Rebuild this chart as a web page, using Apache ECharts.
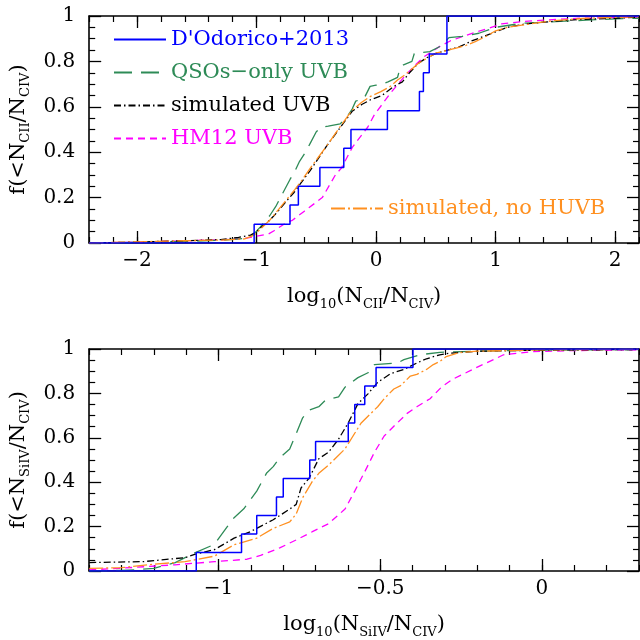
<!DOCTYPE html>
<html>
<head>
<meta charset="utf-8">
<script src="https://cdn.jsdelivr.net/npm/echarts@6/dist/echarts.min.js"></script>
<style>html,body{margin:0;padding:0;background:#fff}#c{width:640px;height:640px}</style>
</head>
<body>
<div id="c"></div>
<script>
// ---------- Top panel: log10(N_CII/N_CIV) ----------
const ciiObsX = [-2.4, -1.02, -0.72, -0.65, -0.47, -0.27, -0.21, 0.095, 0.363, 0.396, 0.445, 0.593, 2.2];
const ciiObsY = [0, 0.083, 0.167, 0.25, 0.333, 0.417, 0.5, 0.583, 0.667, 0.75, 0.833, 1.0, 1.0];

const ciiQsoX = [-2.4, -2.0, -1.6, -1.3, -1.1, -1.02, -0.97, -0.89, -0.84, -0.8, -0.76, -0.72, -0.68, -0.64, -0.59, -0.55, -0.5, -0.46, -0.4, -0.3, -0.25, -0.2, -0.17, -0.1, -0.05, 0.0, 0.05, 0.1, 0.18, 0.2, 0.23, 0.3, 0.32, 0.45, 0.55, 0.61, 0.72, 0.86, 1.0, 1.22, 1.5, 1.76, 2.0, 2.2];
const ciiQsoY = [0, 0.003, 0.007, 0.012, 0.02, 0.04, 0.07, 0.12, 0.16, 0.2, 0.24, 0.28, 0.315, 0.36, 0.4, 0.44, 0.49, 0.51, 0.515, 0.525, 0.55, 0.59, 0.625, 0.637, 0.69, 0.695, 0.70, 0.71, 0.73, 0.77, 0.785, 0.80, 0.835, 0.843, 0.87, 0.905, 0.91, 0.924, 0.95, 0.968, 0.975, 0.982, 0.987, 0.99];

const ciiSimX = [-2.4, -2.0, -1.6, -1.3, -1.15, -1.05, -1.0, -0.95, -0.89, -0.82, -0.75, -0.69, -0.62, -0.55, -0.48, -0.41, -0.34, -0.27, -0.2, -0.12, -0.05, 0.05, 0.15, 0.22, 0.28, 0.35, 0.42, 0.5, 0.6, 0.7, 0.8, 0.9, 1.0, 1.1, 1.25, 1.45, 1.7, 2.0, 2.2];
const ciiSimY = [0, 0.004, 0.01, 0.015, 0.025, 0.035, 0.05, 0.075, 0.1, 0.14, 0.185, 0.22, 0.27, 0.32, 0.375, 0.43, 0.48, 0.53, 0.58, 0.61, 0.63, 0.65, 0.69, 0.71, 0.75, 0.79, 0.815, 0.835, 0.85, 0.865, 0.89, 0.91, 0.93, 0.95, 0.965, 0.975, 0.985, 0.99, 0.995];

const ciiHm12X = [-2.4, -2.0, -1.6, -1.3, -1.1, -1.0, -0.9, -0.85, -0.75, -0.7, -0.6, -0.5, -0.45, -0.34, -0.29, -0.2, -0.15, -0.07, -0.014, 0.05, 0.12, 0.2, 0.26, 0.33, 0.4, 0.53, 0.62, 0.72, 0.84, 0.94, 1.05, 1.22, 1.4, 1.7, 2.2];
const ciiHm12Y = [0, 0.004, 0.01, 0.014, 0.02, 0.03, 0.04, 0.055, 0.09, 0.1, 0.14, 0.18, 0.2, 0.3, 0.33, 0.42, 0.455, 0.51, 0.565, 0.61, 0.66, 0.71, 0.747, 0.785, 0.82, 0.865, 0.89, 0.909, 0.93, 0.945, 0.965, 0.975, 0.982, 0.99, 0.995];

const ciiNoHuvbX = [-2.4, -2.0, -1.6, -1.3, -1.1, -1.02, -0.97, -0.89, -0.82, -0.75, -0.68, -0.615, -0.55, -0.48, -0.41, -0.34, -0.27, -0.2, -0.12, -0.05, 0.04, 0.12, 0.18, 0.24, 0.29, 0.35, 0.4, 0.5, 0.6, 0.67, 0.75, 0.83, 0.92, 1.0, 1.1, 1.22, 1.49, 1.76, 2.2];
const ciiNoHuvbY = [0, 0.005, 0.01, 0.013, 0.018, 0.035, 0.06, 0.1, 0.145, 0.19, 0.235, 0.28, 0.33, 0.38, 0.43, 0.483, 0.535, 0.585, 0.62, 0.645, 0.667, 0.69, 0.718, 0.74, 0.762, 0.79, 0.806, 0.836, 0.85, 0.858, 0.87, 0.887, 0.91, 0.935, 0.95, 0.96, 0.98, 0.99, 0.997];

// ---------- Bottom panel: log10(N_SiIV/N_CIV) ----------
const siObsX = [-1.4, -1.069, -0.929, -0.882, -0.821, -0.80, -0.718, -0.70, -0.599, -0.579, -0.548, -0.513, -0.399, 0.3];
const siObsY = [0, 0.083, 0.167, 0.25, 0.333, 0.417, 0.5, 0.583, 0.667, 0.75, 0.833, 0.917, 1.0, 1.0];

const siQsoX = [-1.4, -1.3, -1.25, -1.2, -1.134, -1.084, -1.013, -0.973, -0.952, -0.922, -0.882, -0.852, -0.831, -0.811, -0.78, -0.761, -0.74, -0.72, -0.69, -0.67, -0.629, -0.609, -0.569, -0.538, -0.518, -0.447, -0.427, -0.377, -0.316, -0.2, 0.0, 0.3];
const siQsoY = [0, 0.003, 0.006, 0.012, 0.038, 0.075, 0.12, 0.2, 0.24, 0.28, 0.36, 0.44, 0.47, 0.51, 0.55, 0.615, 0.69, 0.725, 0.74, 0.769, 0.784, 0.828, 0.871, 0.893, 0.93, 0.937, 0.952, 0.974, 0.985, 0.99, 0.995, 0.998];

const siSimX = [-1.4, -1.235, -1.104, -1.074, -1.013, -0.952, -0.902, -0.831, -0.78, -0.76, -0.745, -0.72, -0.69, -0.66, -0.629, -0.599, -0.569, -0.538, -0.508, -0.468, -0.427, -0.387, -0.357, -0.316, -0.286, -0.2, 0.0, 0.3];
const siSimY = [0.038, 0.042, 0.06, 0.075, 0.096, 0.148, 0.177, 0.231, 0.279, 0.30, 0.374, 0.418, 0.506, 0.535, 0.594, 0.667, 0.754, 0.798, 0.85, 0.889, 0.908, 0.937, 0.956, 0.974, 0.981, 0.99, 0.995, 0.998];

const siHm12X = [-1.4, -1.309, -1.134, -1.013, -0.912, -0.87, -0.811, -0.76, -0.71, -0.66, -0.609, -0.579, -0.548, -0.518, -0.488, -0.458, -0.417, -0.387, -0.346, -0.311, -0.276, -0.235, -0.195, -0.15, -0.119, -0.074, -0.033, 0.1, 0.3];
const siHm12Y = [0.005, 0.012, 0.028, 0.042, 0.053, 0.07, 0.104, 0.14, 0.177, 0.213, 0.279, 0.36, 0.447, 0.535, 0.608, 0.652, 0.71, 0.74, 0.776, 0.828, 0.864, 0.893, 0.922, 0.952, 0.974, 0.981, 0.988, 0.993, 0.996];

const siNoHuvbX = [-1.4, -1.3, -1.205, -1.104, -1.013, -0.952, -0.882, -0.831, -0.78, -0.76, -0.74, -0.71, -0.69, -0.66, -0.609, -0.559, -0.508, -0.488, -0.458, -0.437, -0.407, -0.387, -0.357, -0.336, -0.316, -0.296, -0.255, -0.2, 0.0, 0.3];
const siNoHuvbY = [0.012, 0.015, 0.03, 0.042, 0.067, 0.118, 0.148, 0.192, 0.221, 0.257, 0.33, 0.404, 0.44, 0.477, 0.55, 0.667, 0.74, 0.776, 0.82, 0.835, 0.878, 0.886, 0.908, 0.93, 0.944, 0.966, 0.984, 0.99, 0.996, 0.999];

// ---------- Tick labels ----------
const topXTicks = [-2, -1, 0, 1, 2];
const botXTicks = [-1, -0.5, 0];
const yTicks = [0, 0.2, 0.4, 0.6, 0.8, 1];

const names = ["D'Odorico+2013", 'QSOs\u2212only UVB', 'simulated UVB', 'HM12 UVB', 'simulated, no HUVB'];
const colors = ['#0000ff', '#2e8b57', '#000000', '#ff00ff', '#ff9020'];
const dashes = ['solid', [18, 9], [7, 3, 1.5, 3], [7, 5], [14, 3, 2, 3]];

const FONT = 'DejaVu Serif';
const fmt = v => String(v).replace('-', '\u2212');
function pairs(xs, ys) { return xs.map((x, i) => [x, ys[i]]); }

const nameRich = {
  m: { fontFamily: FONT, fontSize: 21, lineHeight: 28, verticalAlign: 'middle', color: '#000' },
  s: { fontFamily: FONT, fontSize: 13, lineHeight: 13, verticalAlign: 'bottom', color: '#000' }
};

function xAxesFor(gridIndex, min, max, majors, minorInterval, name) {
  const base = { type: 'value', gridIndex, min, max, splitLine: { show: false } };
  return [
    Object.assign({}, base, {
      position: 'bottom',
      axisLine: { show: true, onZero: false, lineStyle: { color: '#000', width: 1.6 } },
      axisTick: { show: true, inside: true, length: 12, customValues: majors, lineStyle: { color: '#000', width: 1.3 } },
      axisLabel: { show: true, customValues: majors, formatter: fmt, margin: 8, fontFamily: FONT, fontSize: 20, color: '#000' },
      name, nameLocation: 'middle', nameGap: 40, nameTextStyle: { rich: nameRich }
    }),
    Object.assign({}, base, {
      position: 'bottom', interval: minorInterval,
      axisLine: { show: false, onZero: false },
      axisTick: { show: true, inside: true, length: 6, lineStyle: { color: '#000', width: 1.2 } },
      axisLabel: { show: false }
    }),
    Object.assign({}, base, {
      position: 'top',
      axisLine: { show: true, onZero: false, lineStyle: { color: '#000', width: 1.6 } },
      axisTick: { show: true, inside: true, length: 12, customValues: majors, lineStyle: { color: '#000', width: 1.3 } },
      axisLabel: { show: false }
    }),
    Object.assign({}, base, {
      position: 'top', interval: minorInterval,
      axisLine: { show: false, onZero: false },
      axisTick: { show: true, inside: true, length: 6, lineStyle: { color: '#000', width: 1.2 } },
      axisLabel: { show: false }
    })
  ];
}

function yAxesFor(gridIndex, name) {
  const base = {
    type: 'value', gridIndex, min: 0, max: 1, interval: 0.2, splitLine: { show: false },
    axisLine: { show: true, onZero: false, lineStyle: { color: '#000', width: 1.6 } },
    axisTick: { show: true, inside: true, length: 12, lineStyle: { color: '#000', width: 1.3 } },
    minorTick: { show: true, splitNumber: 4, length: 6, lineStyle: { color: '#000', width: 1.2 } }
  };
  return [
    Object.assign({}, base, {
      position: 'left',
      axisLabel: { show: true, formatter: v => String(v), margin: 14, fontFamily: FONT, fontSize: 20, color: '#000', customValues: yTicks },
      name, nameLocation: 'middle', nameRotate: 90, nameGap: 37, nameTextStyle: { rich: nameRich }
    }),
    Object.assign({}, base, { position: 'right', axisLabel: { show: false } })
  ];
}

function seriesFor(xi, yi, sets) {
  // sets: [obs, qso, sim, hm12, nohuvb]
  const order = [3, 1, 2, 4, 0];
  return order.map(k => ({
    type: 'line', name: names[k], xAxisIndex: xi, yAxisIndex: yi,
    data: sets[k], symbol: 'none', showSymbol: false, animation: false,
    step: k === 0 ? 'end' : false,
    lineStyle: { color: colors[k], width: k === 0 ? 1.5 : 1.3, type: dashes[k] },
    itemStyle: { color: colors[k] }
  }));
}

const topSets = [pairs(ciiObsX, ciiObsY), pairs(ciiQsoX, ciiQsoY), pairs(ciiSimX, ciiSimY), pairs(ciiHm12X, ciiHm12Y), pairs(ciiNoHuvbX, ciiNoHuvbY)];
const botSets = [pairs(siObsX, siObsY), pairs(siQsoX, siQsoY), pairs(siSimX, siSimY), pairs(siHm12X, siHm12Y), pairs(siNoHuvbX, siNoHuvbY)];

const legendText = { fontFamily: FONT, fontSize: 21, lineHeight: 20 };
const option = {
  backgroundColor: '#fff',
  animation: false,
  grid: [
    { left: 79, right: 1, top: 16, bottom: 397 },
    { left: 79, right: 1, top: 349, bottom: 63 }
  ],
  xAxis: [].concat(
    xAxesFor(0, -2.4, 2.2, topXTicks, 0.2, '{m|log}{s|10}{m|(N}{s|CII}{m|/N}{s|CIV}{m|)}'),
    xAxesFor(1, -1.4, 0.3, botXTicks, 0.1, '{m|log}{s|10}{m|(N}{s|SiIV}{m|/N}{s|CIV}{m|)}')
  ),
  yAxis: [].concat(
    yAxesFor(0, '{m|f(<N}{s|CII}{m|/N}{s|CIV}{m|)}'),
    yAxesFor(1, '{m|f(<N}{s|SiIV}{m|/N}{s|CIV}{m|)}')
  ),
  legend: [
    {
      orient: 'vertical', left: 113, top: 29, padding: 0, itemWidth: 52, itemHeight: 20, itemGap: 12,
      selectedMode: false, textStyle: legendText, itemStyle: { opacity: 0 },
      data: [0, 1, 2, 3].map(k => ({ name: names[k], textStyle: { color: colors[k] } }))
    },
    {
      orient: 'vertical', left: 330, top: 198, padding: 0, itemWidth: 52, itemHeight: 20,
      selectedMode: false, textStyle: legendText, itemStyle: { opacity: 0 },
      data: [{ name: names[4], textStyle: { color: colors[4] } }]
    }
  ],
  series: [].concat(seriesFor(0, 0, topSets), seriesFor(4, 2, botSets))
};

const chart = echarts.init(document.getElementById('c'), null, { renderer: 'canvas' });
chart.setOption(option);
</script>
</body>
</html>
